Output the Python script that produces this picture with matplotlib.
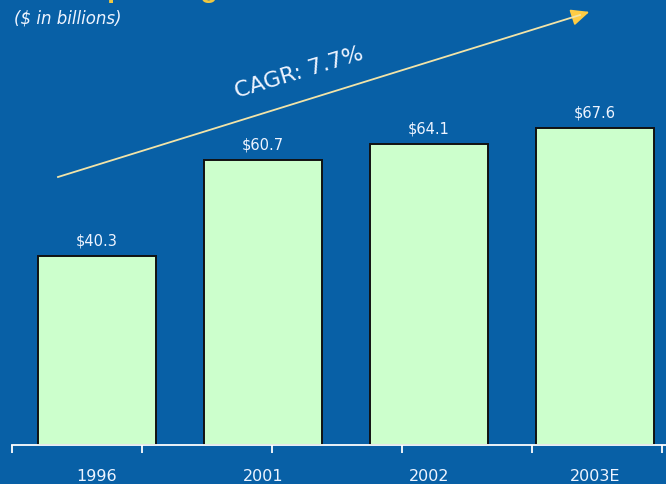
import matplotlib.pyplot as plt
from matplotlib.ticker import FixedLocator

years = ['1996', '2001', '2002', '2003E']
spending = [40.3, 60.7, 64.1, 67.6]
value_labels = ['$40.3', '$60.7', '$64.1', '$67.6']
title = 'IT Spending'
subtitle = '($ in billions)'
growth_label = 'CAGR: 7.7%'

bg = '#0860a6'
bar_face = '#ccffcc'
text_col = '#eef4ff'

fig = plt.figure(figsize=(6.66, 4.84), dpi=100, facecolor=bg)
W, H = 666, 484
base_px = 445

ax = fig.add_axes([0, (H - base_px) / H, 1, base_px / H])
ax.set_facecolor(bg)

# pixel layout: bar centres 97 + 166*i, 4.69 px per billion
px_per_cat = 166.0
x0 = 97.0
ax.set_xlim(-x0 / px_per_cat, (W - x0) / px_per_cat)
ax.set_ylim(0, base_px / 4.69)

xs = list(range(len(years)))
bars = ax.bar(xs, spending, width=0.715, color=bar_face, edgecolor='#111111', linewidth=1.4, zorder=3)
for b, lab in zip(bars, value_labels):
    ax.text(b.get_x() + b.get_width() / 2, b.get_height() + 1.6, lab,
            ha='center', va='bottom', fontsize=10.5, color=text_col, family='DejaVu Sans')

for s in ['top', 'right', 'left']:
    ax.spines[s].set_visible(False)
ax.spines['bottom'].set_color('white')
ax.spines['bottom'].set_linewidth(1.3)
ax.spines['bottom'].set_bounds((12 - x0) / px_per_cat, (W - x0) / px_per_cat)
ax.spines['bottom'].set_zorder(4)

tick_px = [12, 142, 272, 402, 532, 662]
ax.xaxis.set_major_locator(FixedLocator([(p - x0) / px_per_cat for p in tick_px]))
ax.xaxis.set_minor_locator(FixedLocator(xs))
ax.set_xticklabels([])
ax.set_xticklabels(years, minor=True)
ax.tick_params(axis='x', which='major', direction='out', length=6, width=1.3, color='white')
ax.tick_params(axis='x', which='minor', length=0, pad=17, labelsize=11.5, labelcolor=text_col)
for t in ax.get_xticklabels(minor=True):
    t.set_family('Liberation Sans Narrow')
ax.set_yticks([])

# growth arrow and label
fig.add_artist(plt.Line2D([58 / W, 580 / W], [1 - 177 / H, 1 - 15 / H],
                          transform=fig.transFigure, color='#f2e4a8', linewidth=1.3))
ax.annotate('', xy=(592 / W, 1 - 11 / H), xytext=(575 / W, 1 - 16.5 / H),
            xycoords='figure fraction', textcoords='figure fraction',
            arrowprops=dict(arrowstyle='-|>,head_length=1.1,head_width=0.5',
                            color='#ffcc44', linewidth=1.3))
fig.text(299 / W, 1 - 73 / H, growth_label, rotation=17, ha='center', va='center',
         fontsize=16, color=text_col, family='DejaVu Sans')

fig.text(14 / W, 1 - 18 / H, subtitle, ha='left', va='center', fontsize=12,
         style='italic', color=text_col, family='DejaVu Sans')
# title sits mostly above the top edge
fig.text(55 / W, 1 + 2.5 / H, title, ha='left', va='baseline', fontsize=20.5,
         weight='bold', color='#f0c840', family='Liberation Sans')

fig.savefig('out.png', dpi=100, facecolor=bg)
